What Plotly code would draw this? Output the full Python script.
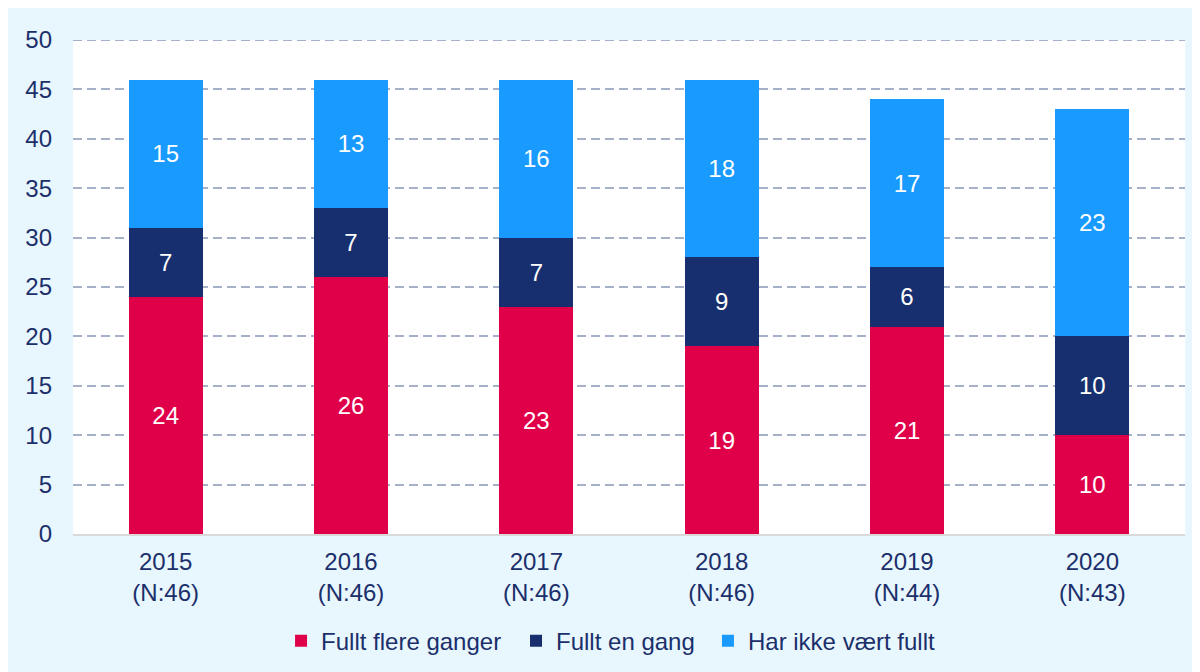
import plotly.graph_objects as go

categories = ["2015<br>(N:46)", "2016<br>(N:46)", "2017<br>(N:46)",
              "2018<br>(N:46)", "2019<br>(N:44)", "2020<br>(N:43)"]
fullt_flere = [24, 26, 23, 19, 21, 10]
fullt_en = [7, 7, 7, 9, 6, 10]
ikke_fullt = [15, 13, 16, 18, 17, 23]
series_names = ["Fullt flere ganger", "Fullt en gang", "Har ikke vært fullt"]
series_colors = ["#E0004A", "#172F6E", "#189AFF"]
y_ticks = [0, 5, 10, 15, 20, 25, 30, 35, 40, 45, 50]
y_max = 50

TEXT = "#1B2F6B"
FONT = "Liberation Sans, Arial, sans-serif"
GRID = "#A6B0C8"

legend_ids = ["legend", "legend2", "legend3"]
legend_x = [0.1871, 0.3984, 0.5710]

fig = go.Figure()
for name, vals, col, lid in zip(series_names, [fullt_flere, fullt_en, ikke_fullt],
                                series_colors, legend_ids):
    fig.add_trace(go.Bar(
        x=categories, y=vals, name=name, legend=lid,
        marker=dict(color=col, line=dict(width=0)),
        text=[str(v) for v in vals],
        textposition="inside", insidetextanchor="middle", textangle=0,
        textfont=dict(color="white", size=24, family=FONT),
        width=0.4,
    ))

legend_common = dict(orientation="h", xanchor="left", y=-0.217, yanchor="middle",
                     font=dict(size=24, color=TEXT), bgcolor="rgba(0,0,0,0)")

fig.update_layout(
    barmode="stack",
    width=1200, height=672,
    margin=dict(l=65, r=23, t=32, b=146),
    paper_bgcolor="#E8F6FD",
    plot_bgcolor="white",
    font=dict(family=FONT, color=TEXT, size=24),
    showlegend=True,
    legend=dict(x=legend_x[0], **legend_common),
    legend2=dict(x=legend_x[1], **legend_common),
    legend3=dict(x=legend_x[2], **legend_common),
    uniformtext=dict(minsize=24, mode="show"),
    shapes=[
        dict(type="line", xref="paper", yref="y", x0=0, x1=1, y0=y_max, y1=y_max,
             line=dict(color=GRID, width=2, dash="9px,5px"), layer="below"),
    ],
)
fig.update_xaxes(showline=True, linecolor="#D9D9D9", linewidth=2, showgrid=False,
                 ticks="", ticklabelstandoff=5, tickfont=dict(size=24, color=TEXT))
fig.update_yaxes(range=[0, y_max], tickvals=y_ticks, showgrid=True, gridcolor=GRID,
                 gridwidth=2, griddash="9px,5px", zeroline=False, ticks="",
                 ticklabelstandoff=20, tickfont=dict(size=24, color=TEXT))

fig.write_html("out.html")
